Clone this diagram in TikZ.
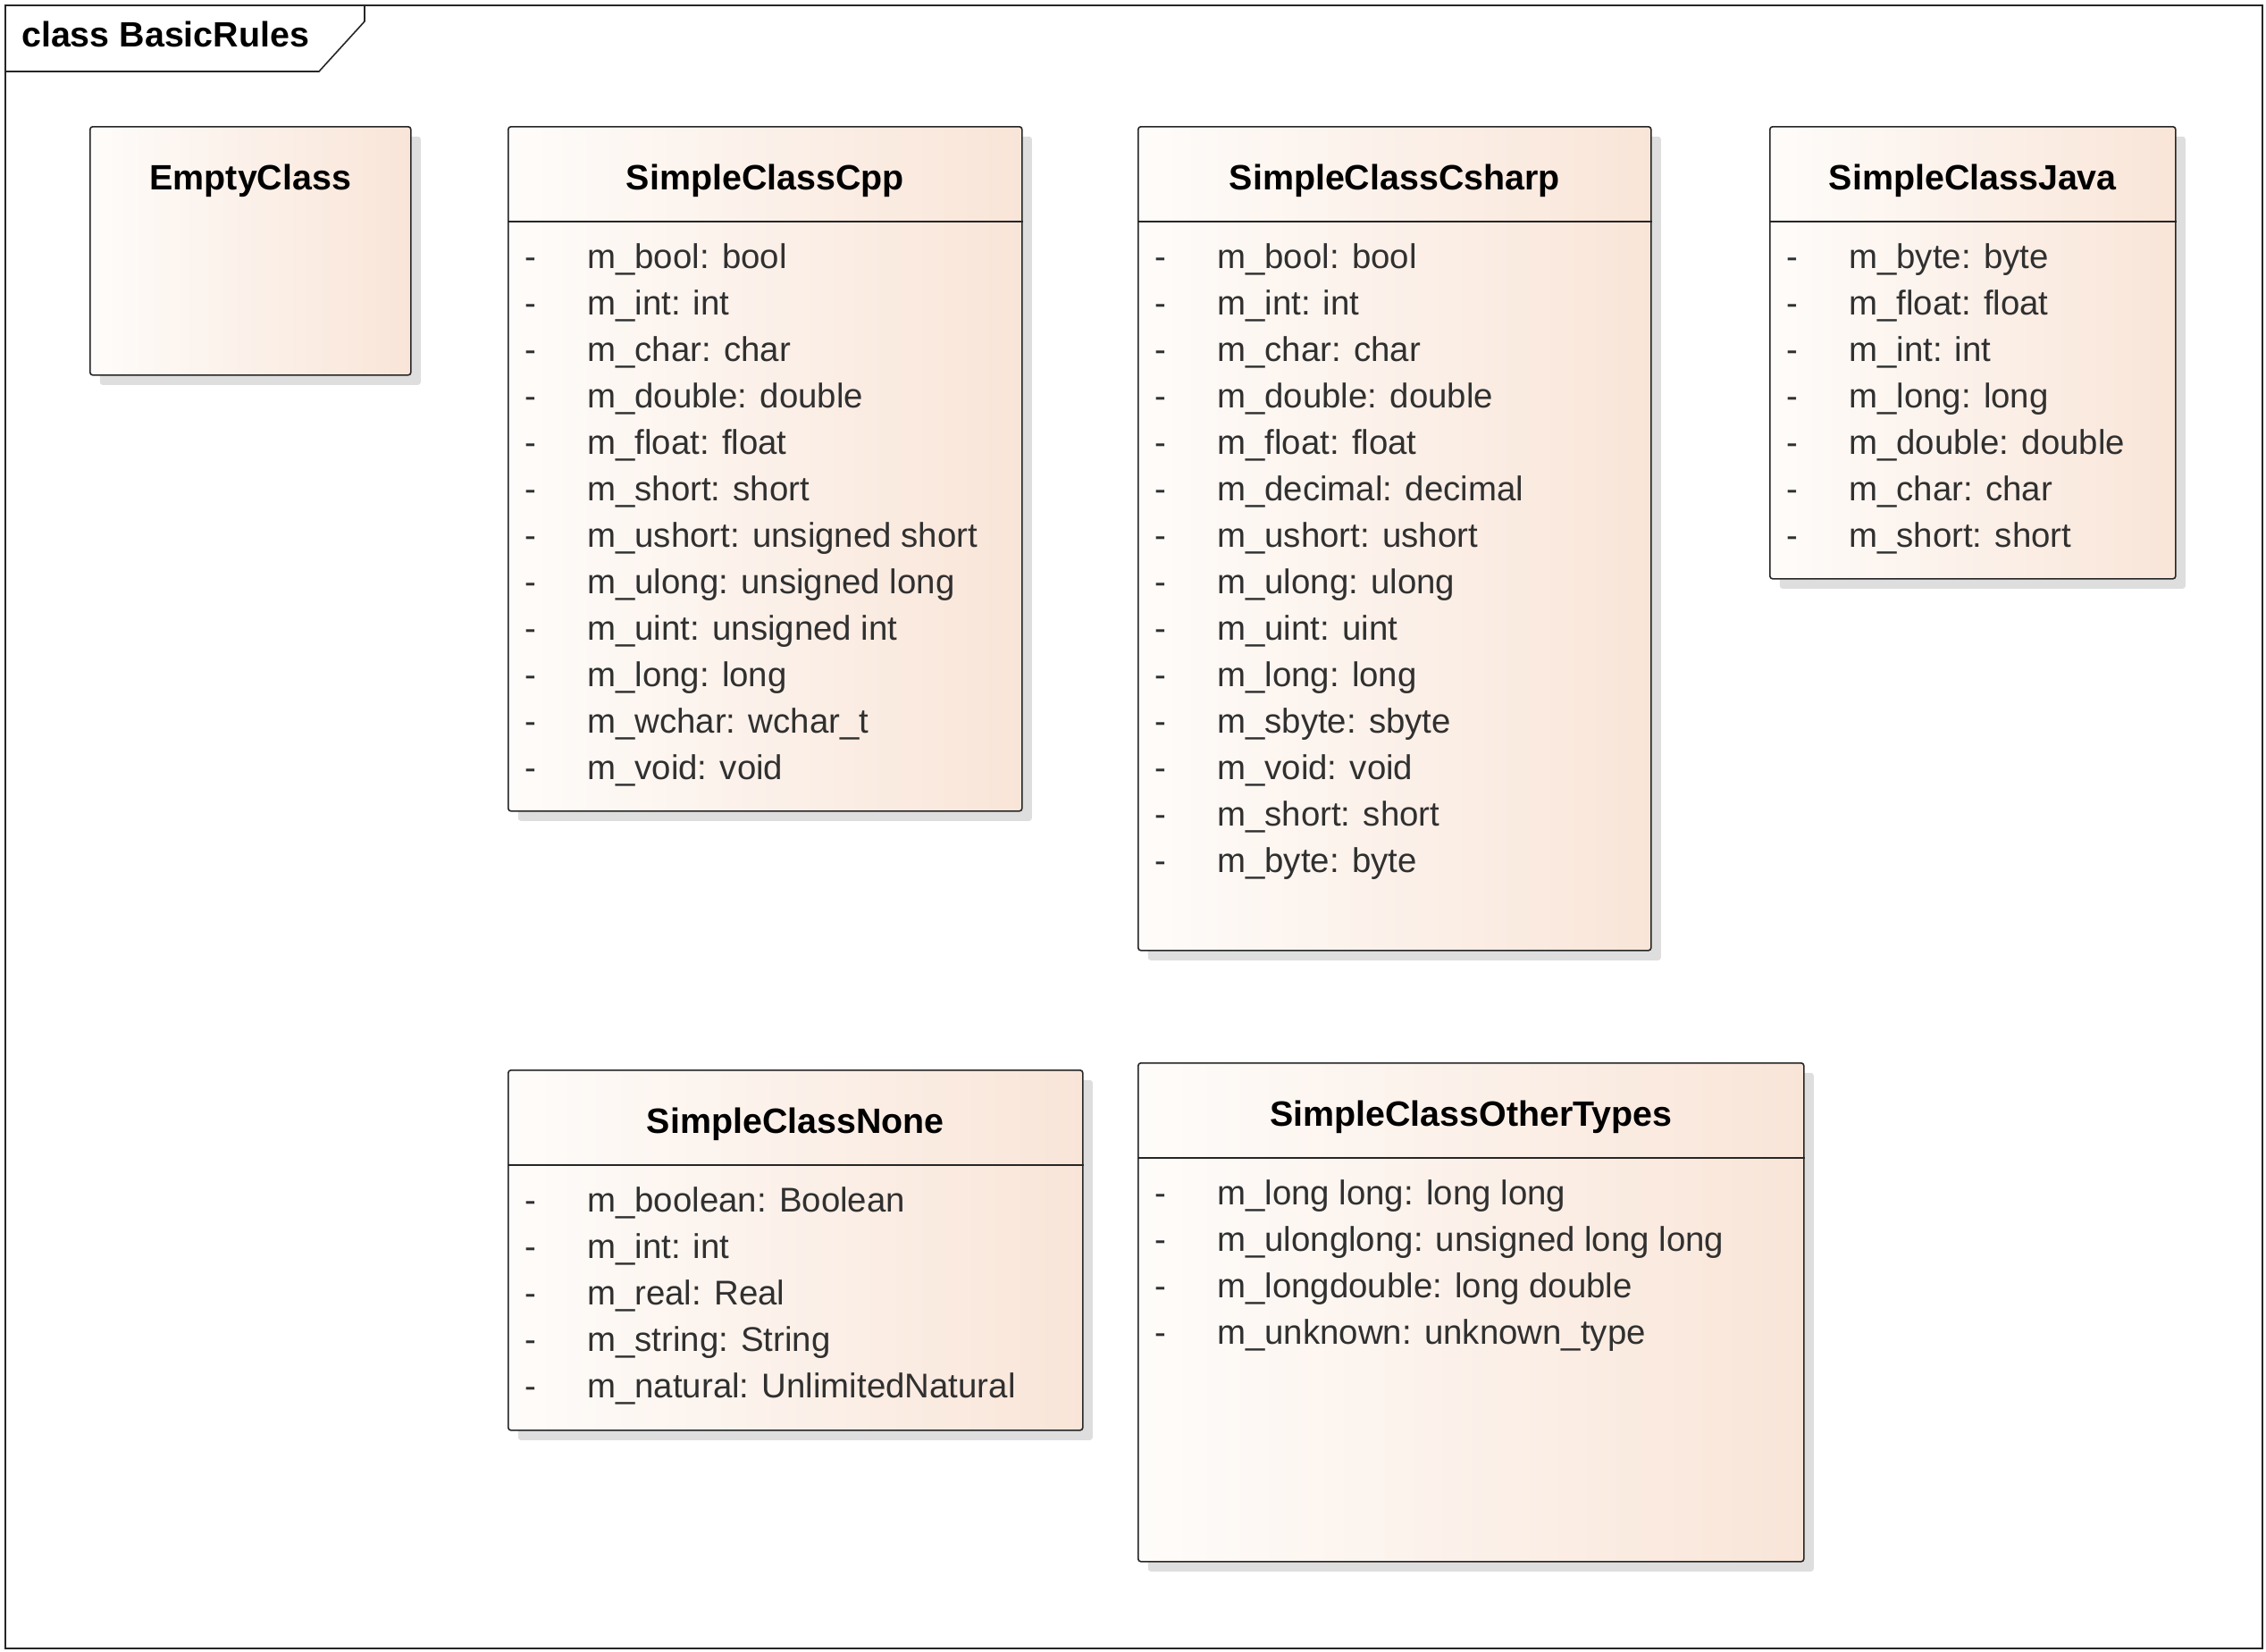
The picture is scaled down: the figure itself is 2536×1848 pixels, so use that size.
\documentclass[tikz,border=0pt]{standalone}
\usepackage{fontspec}
\setmainfont{Liberation Sans}
\usetikzlibrary{shadows}
\definecolor{peach}{RGB}{249,229,216}
\definecolor{paper}{RGB}{254,252,250}
\definecolor{attrgray}{RGB}{48,48,48}

\begin{document}
\begin{tikzpicture}[x=1pt, y=-1pt,
  diagramframe/.style={draw=black!85, line width=1.6pt, inner sep=0pt, anchor=north west},
  cls/.style={draw=black!85, line width=1.6pt, rounded corners=3pt, left color=paper, right color=peach,
    inner sep=0pt, anchor=north west,
    drop shadow={shadow xshift=11pt, shadow yshift=-11pt, fill=black!13, opacity=1}},
  clsline/.style={draw=black!85, line width=1.6pt},
  clsname/.style={font=\fontsize{39.4}{48}\selectfont\bfseries, anchor=base, inner sep=0pt},
  clsattr/.style={font=\fontsize{38.4}{52}\selectfont, text=attrgray, anchor=base west, inner sep=0pt}]
  \useasboundingbox (0,0) rectangle (2536,1848);

  % diagram frame and its tab
  \node[diagramframe, minimum width=2526pt, minimum height=1839pt] (basicrules) at (5,5) {};
  \draw[clsline] ([yshift=-75pt]basicrules.north west) -- ++(352,0) -- ++(51,-56) -- ([xshift=403pt]basicrules.north west);
  \node[clsname, anchor=base west] (basicrulesname) at (24,52) {class BasicRules};

  % EmptyClass
  \node[cls, minimum width=359pt, minimum height=278pt] (empty) at (100,141) {};
  \node[clsname] (emptyname) at ([yshift=-71pt]empty.north) {EmptyClass};

  % SimpleClassCpp
  \node[cls, minimum width=575pt, minimum height=766pt] (cpp) at (568,141) {};
  \node[clsname] (cppname) at ([yshift=-71pt]cpp.north) {SimpleClassCpp};
  \draw[clsline] ([yshift=-107pt]cpp.north west) -- ([yshift=-107pt]cpp.north east);
  \foreach \a [count=\i] in {m\_bool: bool, m\_int: int, m\_char: char, m\_double: double,
      m\_float: float, m\_short: short, m\_ushort: unsigned short, m\_ulong: unsigned long,
      m\_uint: unsigned int, m\_long: long, m\_wchar: wchar\_t, m\_void: void}
    \node[clsattr] (cpp-\i) at ([xshift=19pt, yshift=-107pt-52pt*\i]cpp.north west) {\makebox[70pt][l]{-}\a};

  % SimpleClassCsharp
  \node[cls, minimum width=574pt, minimum height=922pt] (csharp) at (1273,141) {};
  \node[clsname] (csharpname) at ([yshift=-71pt]csharp.north) {SimpleClassCsharp};
  \draw[clsline] ([yshift=-107pt]csharp.north west) -- ([yshift=-107pt]csharp.north east);
  \foreach \a [count=\i] in {m\_bool: bool, m\_int: int, m\_char: char, m\_double: double,
      m\_float: float, m\_decimal: decimal, m\_ushort: ushort, m\_ulong: ulong, m\_uint: uint,
      m\_long: long, m\_sbyte: sbyte, m\_void: void, m\_short: short, m\_byte: byte}
    \node[clsattr] (csharp-\i) at ([xshift=19pt, yshift=-107pt-52pt*\i]csharp.north west) {\makebox[70pt][l]{-}\a};

  % SimpleClassJava
  \node[cls, minimum width=454pt, minimum height=506pt] (java) at (1980,141) {};
  \node[clsname] (javaname) at ([yshift=-71pt]java.north) {SimpleClassJava};
  \draw[clsline] ([yshift=-107pt]java.north west) -- ([yshift=-107pt]java.north east);
  \foreach \a [count=\i] in {m\_byte: byte, m\_float: float, m\_int: int, m\_long: long,
      m\_double: double, m\_char: char, m\_short: short}
    \node[clsattr] (java-\i) at ([xshift=19pt, yshift=-107pt-52pt*\i]java.north west) {\makebox[70pt][l]{-}\a};

  % SimpleClassNone
  \node[cls, minimum width=643pt, minimum height=403pt] (none) at (568,1197) {};
  \node[clsname] (nonename) at ([yshift=-71pt]none.north) {SimpleClassNone};
  \draw[clsline] ([yshift=-107pt]none.north west) -- ([yshift=-107pt]none.north east);
  \foreach \a [count=\i] in {m\_boolean: Boolean, m\_int: int, m\_real: Real, m\_string: String,
      m\_natural: UnlimitedNatural}
    \node[clsattr] (none-\i) at ([xshift=19pt, yshift=-107pt-52pt*\i]none.north west) {\makebox[70pt][l]{-}\a};

  % SimpleClassOtherTypes
  \node[cls, minimum width=745pt, minimum height=558pt] (other) at (1273,1189) {};
  \node[clsname] (othername) at ([yshift=-71pt]other.north) {SimpleClassOtherTypes};
  \draw[clsline] ([yshift=-107pt]other.north west) -- ([yshift=-107pt]other.north east);
  \foreach \a [count=\i] in {m\_long long: long long, m\_ulonglong: unsigned long long,
      m\_longdouble: long double, m\_unknown: unknown\_type}
    \node[clsattr] (other-\i) at ([xshift=19pt, yshift=-107pt-52pt*\i]other.north west) {\makebox[70pt][l]{-}\a};
\end{tikzpicture}
\end{document}
